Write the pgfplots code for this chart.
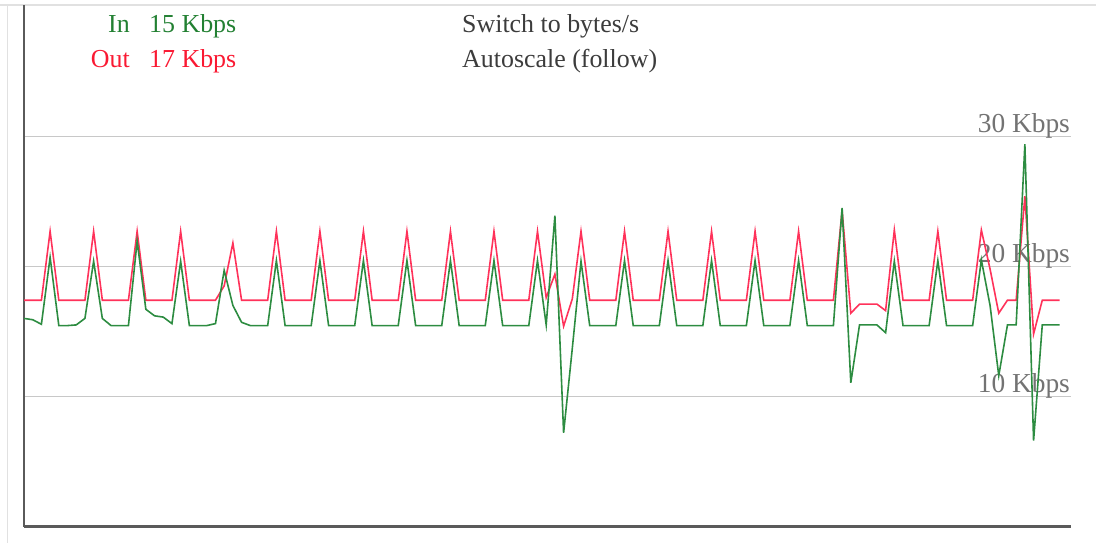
\documentclass[border=0pt]{standalone}
\usepackage{fontspec}
\setmainfont{Liberation Serif}
\usepackage{pgfplots}
\usepackage{pgfplotstable}
\pgfplotsset{compat=1.18}

\definecolor{inline}{RGB}{45,140,65}
\definecolor{outline}{RGB}{255,50,90}
\definecolor{intext}{RGB}{34,128,50}
\definecolor{outtext}{RGB}{250,25,50}
\definecolor{gridgray}{RGB}{200,200,200}
\definecolor{labelgray}{RGB}{115,115,115}
\definecolor{axisgray}{RGB}{90,90,90}
\definecolor{framegray}{RGB}{225,225,225}
\definecolor{menutext}{RGB}{60,60,60}

% sample, out (Kbps), in (Kbps)
\pgfplotstableread{
i out in
0 17.4 16.0
1 17.4 15.9
2 17.4 15.55
3 22.7 20.7
4 17.4 15.45
5 17.4 15.45
6 17.4 15.5
7 17.4 16.0
8 22.7 20.4
9 17.4 16.0
10 17.4 15.45
11 17.4 15.45
12 17.4 15.45
13 22.7 21.95
14 17.4 16.7
15 17.4 16.2
16 17.4 16.1
17 17.4 15.6
18 22.7 20.4
19 17.4 15.45
20 17.4 15.45
21 17.4 15.45
22 17.4 15.6
23 18.5 19.7
24 21.8 17.0
25 17.4 15.7
26 17.4 15.45
27 17.4 15.45
28 17.4 15.45
29 22.7 20.45
30 17.4 15.45
31 17.4 15.45
32 17.4 15.45
33 17.4 15.45
34 22.7 20.45
35 17.4 15.45
36 17.4 15.45
37 17.4 15.45
38 17.4 15.45
39 22.7 20.45
40 17.4 15.45
41 17.4 15.45
42 17.4 15.45
43 17.4 15.45
44 22.7 20.45
45 17.4 15.45
46 17.4 15.45
47 17.4 15.45
48 17.4 15.45
49 22.7 20.45
50 17.4 15.45
51 17.4 15.45
52 17.4 15.45
53 17.4 15.45
54 22.7 20.45
55 17.4 15.45
56 17.4 15.45
57 17.4 15.45
58 17.4 15.45
59 22.7 20.45
60 17.6 15.5
61 19.4 23.9
62 15.4 7.2
63 17.5 13.7
64 22.7 20.4
65 17.4 15.45
66 17.4 15.45
67 17.4 15.45
68 17.4 15.45
69 22.7 20.45
70 17.4 15.45
71 17.4 15.45
72 17.4 15.45
73 17.4 15.45
74 22.7 20.45
75 17.4 15.45
76 17.4 15.45
77 17.4 15.45
78 17.4 15.45
79 22.7 20.45
80 17.4 15.45
81 17.4 15.45
82 17.4 15.45
83 17.4 15.45
84 22.7 20.45
85 17.4 15.45
86 17.4 15.45
87 17.4 15.45
88 17.4 15.45
89 22.7 20.45
90 17.4 15.45
91 17.4 15.45
92 17.4 15.45
93 17.4 15.45
94 24.3 24.5
95 16.4 11.05
96 17.1 15.5
97 17.1 15.5
98 17.1 15.5
99 16.6 14.9
100 22.8 20.4
101 17.4 15.45
102 17.4 15.45
103 17.4 15.45
104 17.4 15.45
105 22.7 20.45
106 17.4 15.45
107 17.4 15.45
108 17.4 15.45
109 17.4 15.45
110 22.8 20.5
111 19.8 17.0
112 16.4 11.6
113 17.4 15.5
114 17.4 15.5
115 25.4 29.4
116 14.8 6.6
117 17.4 15.5
118 17.4 15.5
119 17.4 15.5
}\traffic

\begin{document}
\begin{tikzpicture}[font=\fontsize{26}{30}\selectfont, every node/.style={inner sep=0pt}]
  \path[use as bounding box] (0,0) rectangle (1096bp,543bp);
  % faint page frame
  \draw[framegray, line width=1.5bp] (0,538bp) -- (1096bp,538bp);
  \draw[framegray, line width=1.5bp] (7.5bp,0) -- (7.5bp,538bp);

  \begin{axis}[
      at={(24bp,16.5bp)}, anchor=south west,
      scale only axis,
      width=1047bp, height=521.5bp,
      xmin=0, xmax=120.3,
      ymin=0, ymax=40.1,
      axis x line*=bottom, axis y line*=left,
      axis line style={draw=axisgray, line width=2bp, -},
      xtick=\empty,
      ytick={10,20,30}, yticklabels={},
      major tick length=0pt,
      ymajorgrids,
      grid style={gridgray, line width=1bp},
      clip=false,
    ]
    \node[anchor=base east, text=labelgray, yshift=3.5bp, font=\fontsize{27.5}{30}\selectfont] at (axis cs:120.2,30) {30 Kbps};
    \node[anchor=base east, text=labelgray, yshift=3.5bp, font=\fontsize{27.5}{30}\selectfont] at (axis cs:120.2,20) {20 Kbps};
    \node[anchor=base east, text=labelgray, yshift=3.5bp, font=\fontsize{27.5}{30}\selectfont] at (axis cs:120.2,10) {10 Kbps};
    \addplot[outline, line width=1.6bp, mark=none] table[x=i, y=out] {\traffic};
    \addplot[inline, line width=1.6bp, mark=none] table[x=i, y=in] {\traffic};
  \end{axis}

  % status lines
  \node[anchor=base east, text=intext] at (130bp,510bp) {In};
  \node[anchor=base west, text=intext] at (149bp,510bp) {15 Kbps};
  \node[anchor=base east, text=outtext] at (130bp,475bp) {Out};
  \node[anchor=base west, text=outtext] at (149bp,475bp) {17 Kbps};
  \node[anchor=base west, text=menutext] at (462bp,510bp) {Switch to bytes/s};
  \node[anchor=base west, text=menutext] at (462bp,475bp) {Autoscale (follow)};
\end{tikzpicture}
\end{document}
